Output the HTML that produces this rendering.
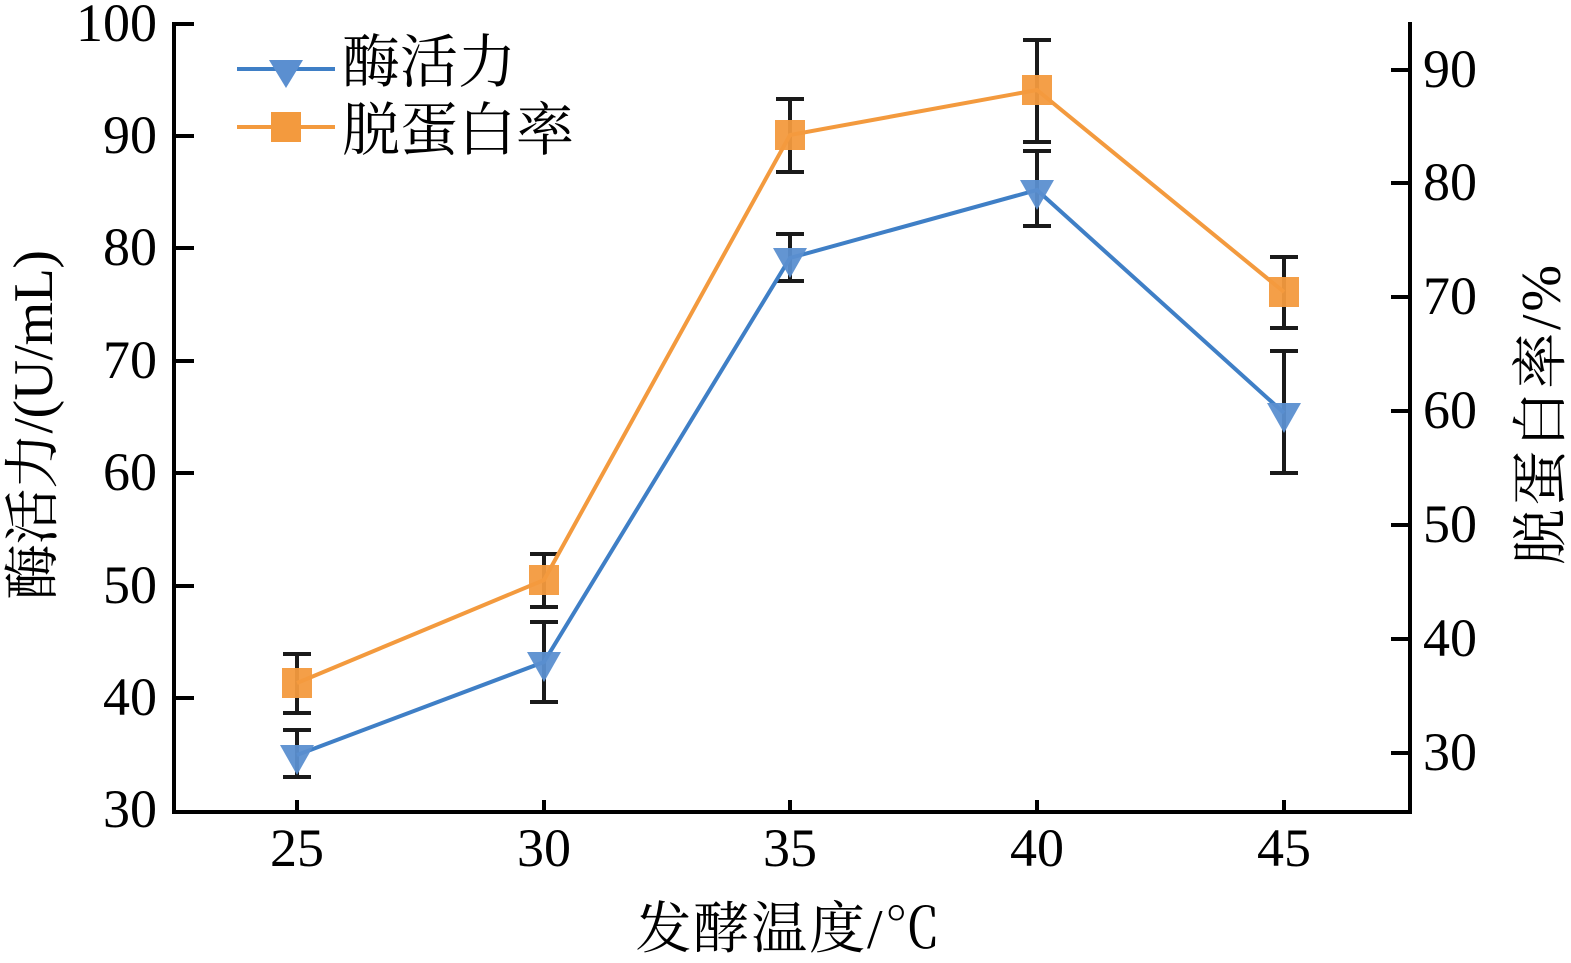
<!DOCTYPE html>
<html><head><meta charset="utf-8"><style>body{margin:0;background:#fff}</style></head><body>
<svg width="1571" height="958" viewBox="0 0 1571 958" xmlns="http://www.w3.org/2000/svg">
<g stroke="#000" stroke-width="4" fill="none">
<path d="M174 22 V812 H1410 V22"/>
<path d="M174 24 h20 M174 136 h20 M174 248 h20 M174 361 h20 M174 473 h20 M174 586 h20 M174 698 h20"/>
<path d="M1410 70 h-19 M1410 183 h-19 M1410 297 h-19 M1410 411 h-19 M1410 525 h-19 M1410 639 h-19 M1410 753 h-19"/>
<path d="M297 812 v-12 M544 812 v-12 M790 812 v-12 M1037 812 v-12 M1284 812 v-12"/>
</g>
<g font-family="Liberation Serif, serif" font-size="54" fill="#000">
<g text-anchor="end">
<text x="157" y="41">100</text><text x="157" y="153">90</text><text x="157" y="265">80</text><text x="157" y="378">70</text><text x="157" y="490">60</text><text x="157" y="603">50</text><text x="157" y="715">40</text><text x="157" y="827">30</text>
</g>
<text x="1423" y="87">90</text><text x="1423" y="200">80</text><text x="1423" y="314">70</text><text x="1423" y="428">60</text><text x="1423" y="542">50</text><text x="1423" y="656">40</text><text x="1423" y="770">30</text>
<g text-anchor="middle">
<text x="297" y="866">25</text><text x="544" y="866">30</text><text x="790" y="866">35</text><text x="1037" y="866">40</text><text x="1284" y="866">45</text>
</g>
</g>
<g font-family="Liberation Serif, Noto Serif CJK SC, serif" font-size="56" fill="#000">
<text x="788" y="948" text-anchor="middle" textLength="305">发酵温度/℃</text>
<text transform="translate(52,425) rotate(-90)" text-anchor="middle" textLength="350">酶活力/(U/mL)</text>
<text transform="translate(1560,415) rotate(-90)" text-anchor="middle" textLength="300">脱蛋白率/%</text>
<text x="342" y="82" font-size="58">酶活力</text>
<text x="342" y="150" font-size="58">脱蛋白率</text>
</g>
<g stroke="#1a1a1a" stroke-width="4">
<path d="M297 730V777M283 730h28M283 777h28 M544 622V702M530 622h28M530 702h28 M790 234V281M776 234h28M776 281h28 M1037 151V226M1023 151h28M1023 226h28 M1284 351V473M1270 351h28M1270 473h28"/>
<path d="M297 654V713M283 654h28M283 713h28 M544 554V607M530 554h28M530 607h28 M790 99V172M776 99h28M776 172h28 M1037 40V142M1023 40h28M1023 142h28 M1284 257V328M1270 257h28M1270 328h28"/>
</g>
<polyline points="297,683 544,580 790,135 1037,90 1284,292" fill="none" stroke="#f39a3e" stroke-width="4"/>
<g fill="#f39a3e" fill-opacity="0.95">
<rect x="282" y="668" width="30" height="30"/><rect x="529" y="565" width="30" height="30"/><rect x="775" y="120" width="30" height="30"/><rect x="1022" y="75" width="30" height="30"/><rect x="1269" y="277" width="30" height="30"/>
</g>
<polyline points="297,755 544,662 790,258 1037,190 1284,413" fill="none" stroke="#3f7fc6" stroke-width="4"/>
<g fill="#5b8fd0" fill-opacity="0.95">
<path d="M280 745h34l-17 30z"/><path d="M527 652h34l-17 30z"/><path d="M773 248h34l-17 30z"/><path d="M1020 180h34l-17 30z"/><path d="M1267 403h34l-17 30z"/>
</g>
<path d="M237 69H335" stroke="#3f7fc6" stroke-width="4"/>
<path d="M269 60h34l-17 28z" fill="#5b8fd0"/>
<path d="M237 127H335" stroke="#f39a3e" stroke-width="4"/>
<rect x="271" y="112" width="30" height="30" fill="#f39a3e"/>
</svg>
</body></html>
